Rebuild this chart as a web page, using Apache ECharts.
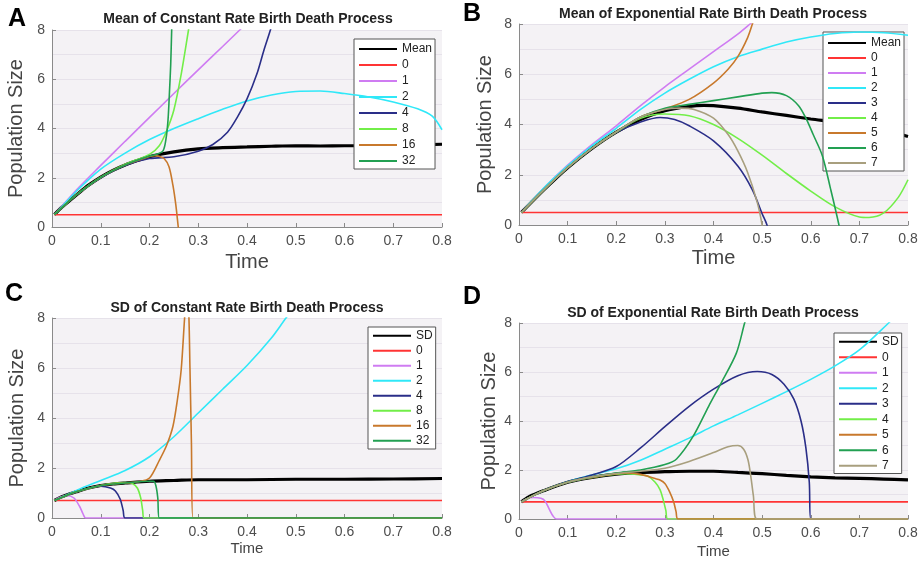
<!DOCTYPE html>
<html><head><meta charset="utf-8">
<script src="https://cdn.jsdelivr.net/npm/echarts@6/dist/echarts.min.js"></script>
<style>html,body{margin:0;padding:0;background:#fff}#c{width:923px;height:561px}</style>
</head><body><div id="c"></div>
<script>
// ---------- DATA (time, population) ----------
// Panel A: Mean of Constant Rate Birth Death Process
const namesA = ['Mean','0','1','2','4','8','16','32'];
const A_mean = [[0.005,0.5],[0.02,0.8],[0.05,1.3],[0.075,1.7],[0.1,2.03],[0.125,2.3],[0.15,2.52],[0.175,2.7],[0.2,2.86],[0.25,3.05],[0.3,3.17],[0.35,3.22],[0.4,3.25],[0.45,3.28],[0.5,3.3],[0.55,3.29],[0.6,3.3],[0.65,3.3],[0.7,3.31],[0.75,3.33],[0.8,3.36]];
const A_0 = [[0.005,0.5],[0.8,0.5]];
const A_1 = [[0.005,0.5],[0.05,1.5],[0.1,2.5],[0.15,3.48],[0.2,4.45],[0.25,5.42],[0.3,6.38],[0.35,7.33],[0.385,8.0],[0.4,8.3]];
const A_2 = [[0.005,0.5],[0.05,1.45],[0.1,2.35],[0.15,3.0],[0.2,3.55],[0.25,4.0],[0.3,4.4],[0.35,4.78],[0.4,5.12],[0.45,5.36],[0.5,5.5],[0.55,5.52],[0.6,5.42],[0.65,5.28],[0.7,5.08],[0.75,4.8],[0.78,4.5],[0.8,3.95]];
const A_4 = [[0.005,0.5],[0.05,1.3],[0.1,2.0],[0.15,2.5],[0.2,2.78],[0.25,2.85],[0.3,3.08],[0.33,3.35],[0.36,3.85],[0.38,4.45],[0.4,5.2],[0.42,6.2],[0.435,7.2],[0.448,8.0],[0.455,8.5]];
const A_8 = [[0.005,0.5],[0.05,1.3],[0.1,2.02],[0.15,2.55],[0.2,2.95],[0.22,3.3],[0.235,3.9],[0.25,4.75],[0.265,6.2],[0.28,8.0],[0.285,8.6]];
const A_16 = [[0.005,0.5],[0.05,1.3],[0.1,2.02],[0.15,2.52],[0.2,2.86],[0.21,2.9],[0.22,2.87],[0.23,2.78],[0.24,2.45],[0.248,1.7],[0.254,0.9],[0.259,0],[0.262,-0.5]];
const A_32 = [[0.005,0.5],[0.05,1.3],[0.1,2.02],[0.15,2.52],[0.2,2.88],[0.215,2.95],[0.228,3.1],[0.234,3.6],[0.238,4.35],[0.241,5.5],[0.2435,6.6],[0.2455,8.0],[0.247,9]];

// Panel B: Mean of Exponential Rate Birth Death Process
const namesB = ['Mean','0','1','2','3','4','5','6','7'];
const B_mean = [[0.005,0.5],[0.05,1.38],[0.1,2.28],[0.15,3.05],[0.2,3.7],[0.25,4.2],[0.3,4.55],[0.35,4.72],[0.38,4.76],[0.4,4.75],[0.45,4.65],[0.5,4.5],[0.55,4.36],[0.6,4.22],[0.65,4.1],[0.7,3.95],[0.75,3.78],[0.8,3.52]];
const B_0 = [[0.005,0.5],[0.8,0.5]];
const B_1 = [[0.005,0.5],[0.05,1.45],[0.1,2.38],[0.15,3.2],[0.2,3.95],[0.25,4.75],[0.3,5.5],[0.35,6.2],[0.4,6.9],[0.45,7.6],[0.475,8.0],[0.49,8.25]];
const B_2 = [[0.005,0.5],[0.05,1.45],[0.1,2.35],[0.15,3.15],[0.2,3.85],[0.25,4.6],[0.3,5.25],[0.35,5.8],[0.4,6.3],[0.45,6.7],[0.5,7.0],[0.55,7.28],[0.6,7.48],[0.65,7.62],[0.7,7.68],[0.75,7.65],[0.8,7.55]];
const B_3 = [[0.005,0.5],[0.05,1.38],[0.1,2.28],[0.15,3.05],[0.2,3.68],[0.25,4.1],[0.29,4.28],[0.32,4.2],[0.35,3.95],[0.4,3.35],[0.45,2.35],[0.48,1.4],[0.5,0.45],[0.51,0],[0.515,-0.5]];
const B_4 = [[0.005,0.5],[0.05,1.38],[0.1,2.28],[0.15,3.05],[0.2,3.7],[0.25,4.25],[0.3,4.42],[0.35,4.35],[0.4,4.0],[0.45,3.45],[0.5,2.78],[0.55,2.05],[0.6,1.35],[0.65,0.72],[0.7,0.32],[0.72,0.3],[0.75,0.48],[0.78,1.1],[0.8,1.8]];
const B_5 = [[0.005,0.5],[0.05,1.38],[0.1,2.28],[0.15,3.05],[0.2,3.7],[0.25,4.3],[0.3,4.62],[0.35,5.0],[0.4,5.65],[0.43,6.2],[0.45,6.7],[0.47,7.45],[0.48,8.0],[0.49,8.6]];
const B_6 = [[0.005,0.5],[0.05,1.38],[0.1,2.28],[0.15,3.05],[0.2,3.7],[0.25,4.3],[0.3,4.65],[0.35,4.8],[0.4,4.95],[0.45,5.1],[0.5,5.25],[0.52,5.27],[0.55,5.15],[0.575,4.75],[0.59,4.25],[0.605,3.6],[0.624,2.75],[0.64,1.5],[0.658,0],[0.662,-0.5]];
const B_7 = [[0.005,0.5],[0.05,1.38],[0.1,2.28],[0.15,3.05],[0.2,3.7],[0.25,4.3],[0.3,4.6],[0.33,4.65],[0.36,4.6],[0.4,4.25],[0.43,3.6],[0.45,2.95],[0.47,2.1],[0.49,0.9],[0.5,0],[0.503,-0.5]];

// Panel C: SD of Constant Rate Birth Death Process
const namesC = ['SD','0','1','2','4','8','16','32'];
const C_sd = [[0.005,0.7],[0.02,0.85],[0.05,1.05],[0.075,1.2],[0.1,1.3],[0.125,1.36],[0.15,1.4],[0.2,1.47],[0.25,1.5],[0.3,1.53],[0.4,1.53],[0.5,1.55],[0.6,1.55],[0.7,1.56],[0.8,1.58]];
const C_0 = [[0.005,0.7],[0.8,0.7]];
const C_1 = [[0.005,0.7],[0.015,0.82],[0.03,0.9],[0.045,0.8],[0.057,0.45],[0.064,0.15],[0.069,0],[0.8,0]];
const C_2 = [[0.005,0.7],[0.05,1.1],[0.1,1.5],[0.15,1.9],[0.2,2.45],[0.25,3.25],[0.3,4.2],[0.35,5.15],[0.4,6.1],[0.45,7.2],[0.48,8.0],[0.5,8.5]];
const C_4 = [[0.005,0.7],[0.05,1.05],[0.08,1.22],[0.1,1.27],[0.12,1.2],[0.13,1.08],[0.14,0.75],[0.146,0.3],[0.15,0],[0.8,0]];
const C_8 = [[0.005,0.7],[0.05,1.05],[0.1,1.3],[0.13,1.4],[0.15,1.42],[0.165,1.38],[0.175,1.2],[0.182,0.8],[0.186,0.3],[0.189,0],[0.8,0]];
const C_16 = [[0.005,0.7],[0.05,1.05],[0.1,1.3],[0.15,1.4],[0.18,1.46],[0.2,1.6],[0.22,2.3],[0.235,2.9],[0.248,3.66],[0.257,4.7],[0.265,5.93],[0.272,8.0],[0.276,9],[0.28,8.5],[0.283,6],[0.286,3],[0.289,0],[0.8,0]];
const C_32 = [[0.005,0.7],[0.05,1.05],[0.1,1.3],[0.15,1.4],[0.2,1.47],[0.208,1.47],[0.213,1.3],[0.217,0.8],[0.22,0],[0.8,0]];

// Panel D: SD of Exponential Rate Birth Death Process
const namesD = ['SD','0','1','2','3','4','5','6','7'];
const D_sd = [[0.005,0.7],[0.02,0.9],[0.05,1.15],[0.1,1.5],[0.15,1.7],[0.2,1.83],[0.25,1.9],[0.3,1.93],[0.35,1.95],[0.4,1.95],[0.45,1.9],[0.5,1.85],[0.55,1.78],[0.6,1.72],[0.65,1.68],[0.7,1.66],[0.75,1.63],[0.8,1.6]];
const D_0 = [[0.005,0.7],[0.8,0.7]];
const D_1 = [[0.005,0.7],[0.015,0.82],[0.03,0.88],[0.045,0.85],[0.053,0.75],[0.063,0.37],[0.07,0.12],[0.077,0],[0.8,0]];
const D_2 = [[0.005,0.7],[0.05,1.15],[0.1,1.52],[0.15,1.8],[0.2,2.05],[0.25,2.4],[0.3,2.85],[0.35,3.3],[0.4,3.8],[0.45,4.25],[0.5,4.72],[0.55,5.2],[0.6,5.7],[0.65,6.25],[0.7,6.9],[0.76,8.0],[0.78,8.4]];
const D_3 = [[0.005,0.7],[0.05,1.15],[0.1,1.52],[0.15,1.8],[0.2,2.14],[0.25,2.9],[0.3,3.77],[0.35,4.6],[0.4,5.3],[0.45,5.85],[0.49,6.02],[0.52,5.9],[0.545,5.5],[0.565,4.9],[0.58,4.0],[0.59,2.9],[0.597,1.5],[0.6,0],[0.8,0]];
const D_4 = [[0.005,0.7],[0.05,1.15],[0.1,1.5],[0.15,1.7],[0.2,1.83],[0.22,1.85],[0.25,1.8],[0.265,1.75],[0.28,1.5],[0.29,1.2],[0.297,0.75],[0.302,0.35],[0.306,0],[0.8,0]];
const D_5 = [[0.005,0.7],[0.05,1.15],[0.1,1.5],[0.15,1.7],[0.2,1.85],[0.22,1.88],[0.25,1.82],[0.28,1.65],[0.29,1.59],[0.3,1.45],[0.31,1.1],[0.318,0.7],[0.323,0.3],[0.327,0],[0.8,0]];
const D_6 = [[0.005,0.7],[0.05,1.15],[0.1,1.5],[0.15,1.72],[0.2,1.88],[0.25,2.0],[0.3,2.22],[0.324,2.45],[0.358,3.37],[0.39,4.6],[0.416,5.56],[0.447,6.77],[0.464,8.0],[0.47,8.4]];
const D_7 = [[0.005,0.7],[0.05,1.15],[0.1,1.5],[0.15,1.72],[0.2,1.86],[0.25,1.95],[0.3,2.07],[0.35,2.35],[0.4,2.71],[0.43,2.95],[0.45,3.0],[0.462,2.85],[0.471,2.41],[0.477,1.7],[0.482,0.95],[0.489,0],[0.8,0]];

// tick labels / axes
const xTicks = [0,0.1,0.2,0.3,0.4,0.5,0.6,0.7,0.8];
const yTicks = [0,2,4,6,8];
const titles = ['Mean of Constant Rate Birth Death Process','Mean of Exponential Rate Birth Death Process','SD of Constant Rate Birth Death Process','SD of Exponential Rate Birth Death Process'];
const letters = ['A','B','C','D'];

// ---------- STYLE ----------
const FONT = "'Liberation Sans', Arial, Helvetica, sans-serif";
const colA = ['#000000','#ff3434','#cf7cf2','#30e8f8','#2a2e88','#72ee48','#c8792c','#22a052'];
const colB = ['#000000','#ff3434','#cf7cf2','#30e8f8','#2a2e88','#72ee48','#c8792c','#22a052','#a89f7e'];
const panels = [
  {names:namesA, data:[A_mean,A_0,A_1,A_2,A_4,A_8,A_16,A_32], colors:colA,
   grid:{left:52,top:30,width:390,height:197}, legend:{left:354,top:39,h:16,pad:[2,3,0,4]}, xGap:25, yGap:26, xFs:20,
   title:[248,19], letter:[17,19]},
  {names:namesB, data:[B_mean,B_0,B_1,B_2,B_3,B_4,B_5,B_6,B_7], colors:colB,
   grid:{left:519,top:24,width:389,height:201}, legend:{left:823,top:32,h:15,pad:[3.5,3,0.5,4]}, xGap:23, yGap:24, xFs:20,
   title:[713,14], letter:[472,14]},
  {names:namesC, data:[C_sd,C_0,C_1,C_2,C_4,C_8,C_16,C_32], colors:colA,
   grid:{left:52,top:318,width:390,height:200}, legend:{left:368,top:327,h:15,pad:[1.2,3,0.8,4]}, xGap:23, yGap:25, xFs:15,
   title:[247,308], letter:[14,294]},
  {names:namesD, data:[D_sd,D_0,D_1,D_2,D_3,D_4,D_5,D_6,D_7], colors:colB,
   grid:{left:519,top:323,width:389,height:196}, legend:{left:834,top:333,h:15.5,pad:[1,3,0,4]}, xGap:25, yGap:20, xFs:15,
   title:[713,313], letter:[472,297]}
];

const grid=[], xAxis=[], yAxis=[], series=[], legend=[], graphic=[];
panels.forEach((p,i)=>{
  grid.push(Object.assign({show:true, backgroundColor:'#f4f2f5', borderWidth:0}, p.grid));
  xAxis.push({type:'value', gridIndex:i, min:xTicks[0], max:xTicks[xTicks.length-1], interval:xTicks[1]-xTicks[0],
    name:'Time', nameLocation:'middle', nameGap:p.xGap,
    nameTextStyle:{fontFamily:FONT, fontSize:p.xFs, color:'#444'},
    axisLine:{show:true, onZero:false, lineStyle:{color:'#8a8a8a', width:1}},
    axisTick:{show:true, inside:true, length:4, lineStyle:{color:'#8a8a8a'}},
    axisLabel:{fontFamily:FONT, fontSize:14, color:'#4d4d4d', margin:7},
    splitLine:{show:false}});
  yAxis.push({type:'value', gridIndex:i, min:yTicks[0], max:yTicks[yTicks.length-1], interval:yTicks[1]-yTicks[0],
    name:'Population Size', nameLocation:'middle', nameGap:p.yGap,
    nameTextStyle:{fontFamily:FONT, fontSize:20, color:'#444'},
    axisLine:{show:true, lineStyle:{color:'#8a8a8a', width:1}},
    axisTick:{show:true, inside:true, length:4, lineStyle:{color:'#8a8a8a'}},
    axisLabel:{fontFamily:FONT, fontSize:14, color:'#4d4d4d', margin:7},
    splitLine:{show:true, lineStyle:{color:'#e6e2ea', width:1}},
    minorTick:{show:false, splitNumber:2},
    minorSplitLine:{show:true, lineStyle:{color:'#e6e2ea', width:1}}});
  const legendNames=[];
  p.names.forEach((n,k)=>{
    const full = letters[i]+'|'+n;
    legendNames.push(full);
    series.push({type:'line', name:full, xAxisIndex:i, yAxisIndex:i, data:p.data[k],
      symbol:'none', smooth:0.3, clip:true,
      lineStyle:{color:p.colors[k], width:k===0?3.2:1.6}, itemStyle:{color:p.colors[k]},
      emphasis:{disabled:true}, silent:true, animation:false, z: 2+k});
  });
  legend.push({data:legendNames, left:p.legend.left, top:p.legend.top, orient:'vertical',
    itemWidth:38, itemHeight:p.legend.h, itemGap:0, selectedMode:false,
    itemStyle:{opacity:0, borderWidth:0},
    backgroundColor:'#ffffff', borderColor:'#555', borderWidth:1, padding:p.legend.pad,
    formatter:(name)=>name.split('|')[1],
    textStyle:{fontFamily:FONT, fontSize:12, color:'#222', lineHeight:p.legend.h}});
  graphic.push({type:'text', x:p.title[0], y:p.title[1], z:100,
    style:{text:titles[i], font:'bold 14px '+FONT, fill:'#222', align:'center', verticalAlign:'middle', textAlign:'center', textVerticalAlign:'middle'}});
  graphic.push({type:'text', x:p.letter[0], y:p.letter[1], z:100,
    style:{text:letters[i], font:'bold 25px '+FONT, fill:'#000', align:'center', verticalAlign:'middle', textAlign:'center', textVerticalAlign:'middle'}});
});

const chart = echarts.init(document.getElementById('c'), null, {renderer:'canvas'});
chart.setOption({animation:false, backgroundColor:'#ffffff', grid, xAxis, yAxis, series, legend, graphic});
</script></body></html>
